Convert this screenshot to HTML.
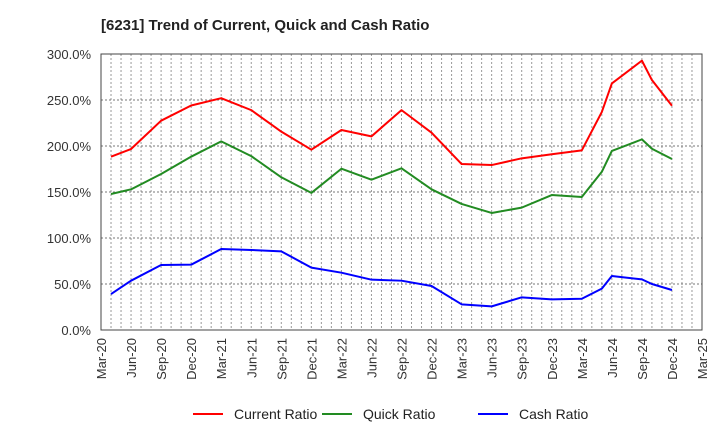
<!DOCTYPE html>
<html><head><meta charset="utf-8"><style>
body{margin:0;background:#fff;width:720px;height:440px;overflow:hidden}
text{font-family:"Liberation Sans",Arial,sans-serif}
</style></head><body>
<svg id="chart" width="720" height="440" xmlns="http://www.w3.org/2000/svg">
<text x="101" y="30" font-size="15" font-weight="bold" fill="#222">[6231]  Trend of Current, Quick and Cash Ratio</text>
<g id="grid"></g><g id="series"></g><g id="axes"></g>
<g>
<line x1="193" y1="414" x2="223" y2="414" stroke="#ff0000" stroke-width="2"/>
<text x="234" y="419" font-size="14" fill="#222">Current Ratio</text>
<line x1="322" y1="414" x2="352" y2="414" stroke="#228b22" stroke-width="2"/>
<text x="363" y="419" font-size="14" fill="#222">Quick Ratio</text>
<line x1="478" y1="414" x2="508" y2="414" stroke="#0000ff" stroke-width="2"/>
<text x="519" y="419" font-size="14" fill="#222">Cash Ratio</text>
</g>
</svg>
<script>
// month offsets from Mar-20
const months = [1,3,6,9,12,15,18,21,24,27,30,33,36,39,42,45,48,50,51,54,55,57];
const currentRatio = [188.4,196.7,227.5,244,252,239,215.6,196,217.4,210.5,239,214.5,180.4,179.3,186.6,191,195.3,237,268,292.8,271.7,243.8];
const quickRatio = [147.8,152.9,169.6,188.4,205,189,166,149,175.3,163.4,175.7,152.9,137,127.2,133,146.7,144.6,172,194.6,207.2,197,185.9];
const cashRatio = [39.1,53.6,70.7,71,88,87,85.5,67.8,62.3,54.7,53.6,47.8,27.9,25.7,35.5,33.3,34,45,58.7,55,50,43.5];
const yTicks = [0,50,100,150,200,250,300];
const xTickLabels = ["Mar-20","Jun-20","Sep-20","Dec-20","Mar-21","Jun-21","Sep-21","Dec-21","Mar-22","Jun-22","Sep-22","Dec-22","Mar-23","Jun-23","Sep-23","Dec-23","Mar-24","Jun-24","Sep-24","Dec-24","Mar-25"];

const L=101,R=702,T=54,B=330,NM=60,YMAX=300;
const xs=m=>L+(R-L)*m/NM;
const ys=v=>B-(B-T)*v/YMAX;
const NS="http://www.w3.org/2000/svg";
function mk(tag,parent,attrs){const e=document.createElementNS(NS,tag);for(const k in attrs)e.setAttribute(k,attrs[k]);parent.appendChild(e);return e;}
const grid=document.getElementById('grid'),axes=document.getElementById('axes'),ser=document.getElementById('series');
for(let m=1;m<NM;m++){
  const l=mk('line',grid,{x1:xs(m),x2:xs(m),y1:T,y2:B,stroke:'#999','stroke-width':1,'stroke-dasharray':'2,2'});
  
  
}
yTicks.forEach(v=>{
  if(v>0&&v<YMAX){
    const l=mk('line',grid,{x1:L,x2:R,y1:ys(v),y2:ys(v),stroke:'#777','stroke-width':1,'stroke-dasharray':'2,2'});
    
    
  }
  const t=mk('text',axes,{x:L-10,y:ys(v)+5,'font-size':13,'text-anchor':'end',fill:'#333'});
  
  
  t.textContent=v.toFixed(1)+'%';
});
xTickLabels.forEach((s,i)=>{
  const x=xs(i*3);
  const t=mk('text',axes,{x:0,y:0,'font-size':13,'text-anchor':'end',fill:'#333',transform:`translate(${x+5},${B+8}) rotate(-90)`});
  
  
  t.textContent=s;
});
const frame=mk('rect',axes,{x:L,y:T,width:R-L,height:B-T,fill:'none',stroke:'#444','stroke-width':1});


[[currentRatio,'#ff0000','current-ratio-line'],[quickRatio,'#228b22','quick-ratio-line'],[cashRatio,'#0000ff','cash-ratio-line']].forEach(([d,c,n])=>{
  const p=mk('polyline',ser,{points:d.map((v,i)=>xs(months[i])+','+ys(v)).join(' '),fill:'none',stroke:c,'stroke-width':2,'stroke-linejoin':'round'});
  
  
});
</script>
</body></html>
